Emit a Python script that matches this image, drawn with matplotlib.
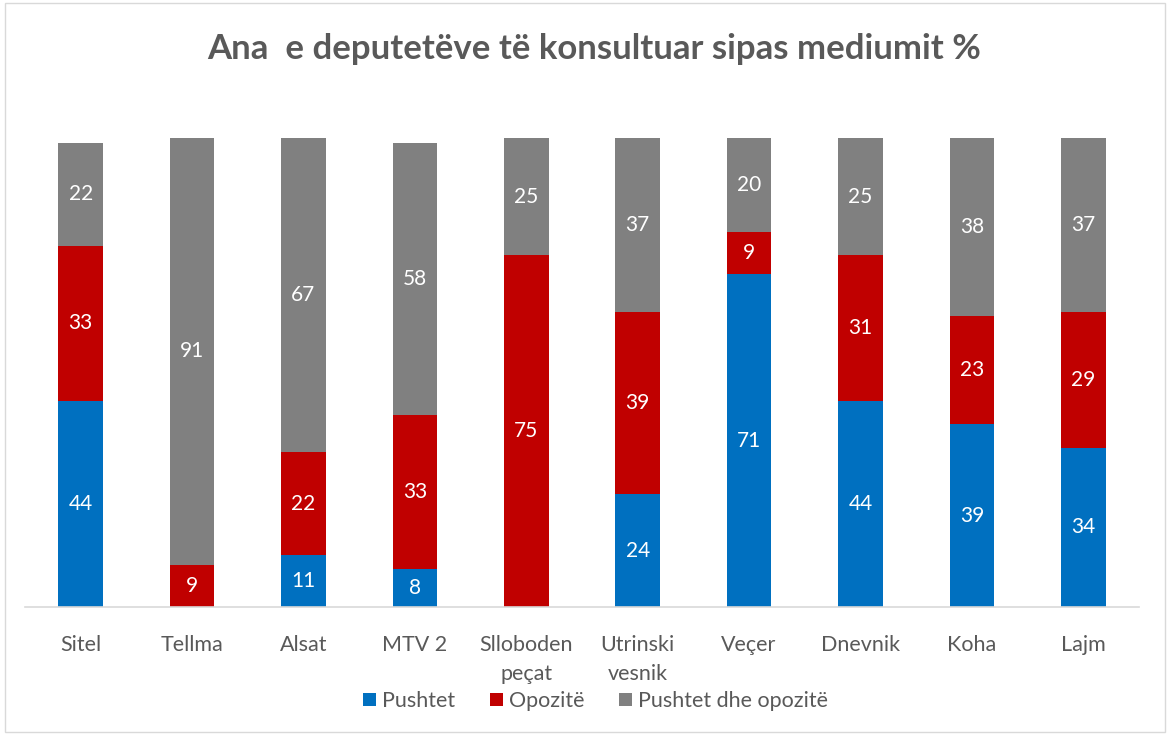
import numpy as np
import matplotlib.pyplot as plt
from matplotlib.patches import Rectangle

plt.rcParams['font.family'] = ['Lato', 'DejaVu Sans']

media = ["Sitel", "Tellma", "Alsat", "MTV 2", "Slloboden\npeçat",
         "Utrinski\nvesnik", "Veçer", "Dnevnik", "Koha", "Lajm"]
pushtet = [44, 0, 11, 8, 0, 24, 71, 44, 39, 34]
opozite = [33, 9, 22, 33, 75, 39, 9, 31, 23, 29]
te_dyja = [22, 91, 67, 58, 25, 37, 20, 25, 38, 37]

series = [("Pushtet", pushtet, "#0070C0"),
          ("Opozitë", opozite, "#C00000"),
          ("Pushtet dhe opozitë", te_dyja, "#808080")]

fig = plt.figure(figsize=(11.7, 7.35), dpi=100)
ax = fig.add_axes([25 / 1170, 128 / 735, 1114 / 1170, 469 / 735])

x = np.arange(len(media))
bottom = np.zeros(len(media))
for name, vals, col in series:
    vals = np.array(vals)
    bars = ax.bar(x, vals, 0.4, bottom=bottom, color=col, label=name)
    labels = [str(v) if v > 0 else "" for v in vals]
    ax.bar_label(bars, labels=labels, label_type="center", color="white",
                 fontsize=15)
    bottom += vals

ax.set_xlim(-0.5, len(media) - 0.5)
ax.set_ylim(0, 100)
ax.set_yticks([])
ax.set_xticks(x)
ax.set_xticklabels(media, fontsize=15.5, color="#595959", linespacing=1.55)
ax.tick_params(axis="x", length=0, pad=20)
for s in ["top", "right", "left"]:
    ax.spines[s].set_visible(False)
ax.spines["bottom"].set_color("#D9D9D9")
ax.spines["bottom"].set_linewidth(1.2)

fig.suptitle("Ana  e deputetëve të konsultuar sipas mediumit %", x=0.508, y=0.955,
             fontsize=25, fontweight="bold", color="#595959")

fig.legend(loc="center", bbox_to_anchor=(0.509, 0.046), ncol=3, frameon=False,
           fontsize=15.5, labelcolor="#595959", handlelength=0.6,
           handleheight=0.6, handletextpad=0.3, columnspacing=1.6)

fig.patches.append(Rectangle((0.004, 0.004), 0.992, 0.992, transform=fig.transFigure,
                             fill=False, edgecolor="#D9D9D9", linewidth=1))

fig.savefig("out.png", dpi=100)
